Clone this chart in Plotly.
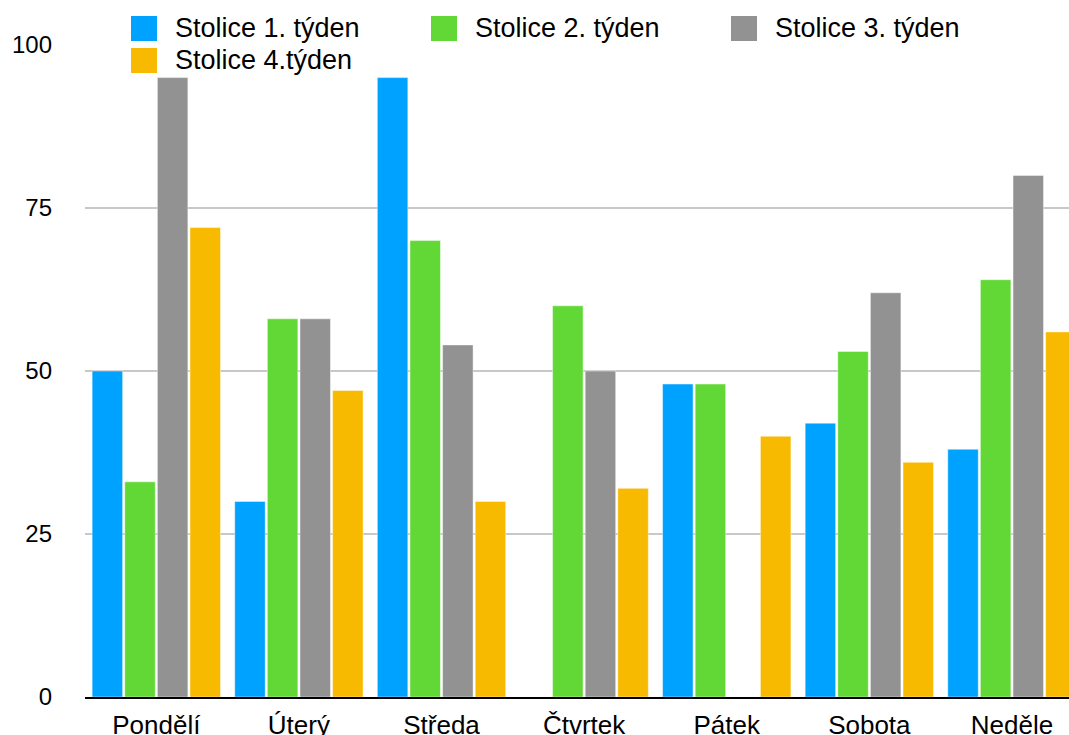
import plotly.graph_objects as go

days = ["Pondělí", "Úterý", "Středa", "Čtvrtek", "Pátek", "Sobota", "Neděle"]
series_names = ["Stolice 1. týden", "Stolice 2. týden", "Stolice 3. týden", "Stolice 4.týden"]
week1 = [50, 30, 95, None, 48, 42, 38]
week2 = [33, 58, 70, 60, 48, 53, 64]
week3 = [95, 58, 54, 50, None, 62, 80]
week4 = [72, 47, 30, 32, 40, 36, 56]
y_ticks = [0, 25, 50, 75, 100]

colors = ["#00A2FF", "#61D836", "#929292", "#F8BA00"]
series = [week1, week2, week3, week4]

W, H = 1069, 735
ML, MR, MT, MB = 85, 0, 45, 38
FONT = "Liberation Sans, Arial, sans-serif"

fig = go.Figure()
for name, vals, col in zip(series_names, series, colors):
    fig.add_trace(go.Bar(
        x=days, y=vals, name=name, marker_color=col,
        marker_line=dict(color="rgba(255,255,255,0.45)", width=1),
        showlegend=False,
    ))

pw = W - ML - MR
ph = H - MT - MB

def px_x(p):
    return (p - ML) / pw

def px_y(p):
    return (H - MB - p) / ph

# manual legend (layout decoration)
legend_pos = [(131, 16), (431, 16), (731, 16), (131, 48)]
shapes = []
annotations = []
for (lx, ly), name, col in zip(legend_pos, series_names, colors):
    shapes.append(dict(type="rect", xref="paper", yref="paper",
                       x0=px_x(lx), x1=px_x(lx + 26), y0=px_y(ly + 25), y1=px_y(ly),
                       fillcolor=col, line=dict(width=0), layer="above"))
    annotations.append(dict(xref="paper", yref="paper", x=px_x(lx + 42), y=px_y(ly + 11.5),
                            text=name, showarrow=False, xanchor="left", yanchor="middle",
                            font=dict(family=FONT, size=27, color="black")))

fig.update_layout(
    width=W, height=H,
    margin=dict(l=ML, r=MR, t=MT, b=MB),
    plot_bgcolor="white", paper_bgcolor="white",
    barmode="group", bargap=0.085, bargroupgap=0.065,
    font=dict(family=FONT, size=24, color="black"),
    shapes=shapes, annotations=annotations,
    xaxis=dict(range=[-0.5, 6.4], showline=True, linecolor="black", linewidth=2,
               showgrid=False, ticks="", tickfont=dict(size=26, color="black"),
               ticklabelstandoff=4, automargin=False),
    yaxis=dict(range=[0, 100], tickvals=y_ticks, showgrid=True, gridcolor="#c8c8c8",
               gridwidth=1.5, zeroline=False, showline=False, ticks="",
               tickfont=dict(size=24, color="black"), ticklabelstandoff=32,
               automargin=False),
)

fig.write_html("out.html")
